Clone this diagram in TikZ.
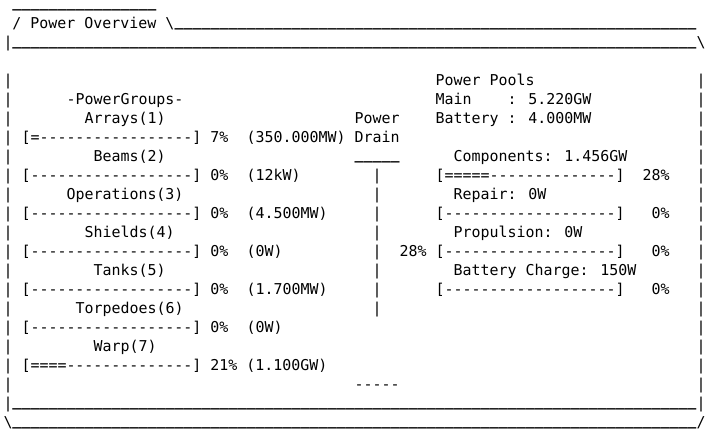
\documentclass[tikz,border=0pt]{standalone}
\usepackage{fontspec}
\newfontfamily\monof{DejaVu Sans Mono}
\newfontfamily\monobf{DejaVu Sans Mono Bold}
\ExplSyntaxOn
\cs_new:Npn \Urep #1 {\raisebox{1.8pt}[0pt][0pt]{\monobf\prg_replicate:nn {#1} {\_}}}
\ExplSyntaxOff
\tikzset{
  txt/.style={anchor=base west, inner sep=0pt, outer sep=0pt,
    font=\monof\fontsize{14.95}{19}\selectfont, text=black}
}
\newcommand\Tx[4]{\node[txt] (#1) at ({3.5+9*#2},{-9.3-19*#3}) {#4};}
\begin{document}
\begin{tikzpicture}[x=1pt,y=1pt]
\useasboundingbox[fill=white] (0,0) rectangle (719,-443);
% frame top
\Tx{topline}{1}{0}{\Urep{16}}
\Tx{title}{1}{1}{/ Power Overview \textbackslash}
\Tx{titlerule}{19}{1}{\Urep{58}}
\Tx{hdrL}{0}{2}{|}
\Tx{hdrrule}{1}{2}{\Urep{76}}
\Tx{hdrR}{77}{2}{\textbackslash}
% side borders
\foreach \r in {4,...,21} {
  \Tx{L\r}{0}{\r}{|}
  \Tx{R\r}{77}{\r}{|}
}
% bottom
\Tx{botrule}{1}{21}{\Urep{76}}
\Tx{endL}{0}{22}{\textbackslash}
\Tx{endrule}{1}{22}{\Urep{76}}
\Tx{endR}{77}{22}{/}
% left panel
\Tx{pg}{7}{5}{-PowerGroups-}
\Tx{g1}{9}{6}{Arrays(1)}
\Tx{b1}{2}{7}{[=-----------------] 7\%}
\Tx{v1}{27}{7}{(350.000MW)}
\Tx{g2}{10}{8}{Beams(2)}
\Tx{b2}{2}{9}{[------------------] 0\%}
\Tx{v2}{27}{9}{(12kW)}
\Tx{g3}{7}{10}{Operations(3)}
\Tx{b3}{2}{11}{[------------------] 0\%}
\Tx{v3}{27}{11}{(4.500MW)}
\Tx{g4}{9}{12}{Shields(4)}
\Tx{b4}{2}{13}{[------------------] 0\%}
\Tx{v4}{27}{13}{(0W)}
\Tx{g5}{10}{14}{Tanks(5)}
\Tx{b5}{2}{15}{[------------------] 0\%}
\Tx{v5}{27}{15}{(1.700MW)}
\Tx{g6}{8}{16}{Torpedoes(6)}
\Tx{b6}{2}{17}{[------------------] 0\%}
\Tx{v6}{27}{17}{(0W)}
\Tx{g7}{10}{18}{Warp(7)}
\Tx{b7}{2}{19}{[====--------------] 21\% (1.100GW)}
% center
\Tx{pw}{39}{6}{Power}
\Tx{dr}{39}{7}{Drain}
\Tx{drtop}{39}{8}{\Urep{5}}
\foreach \r in {9,...,16} {
  \Tx{C\r}{41}{\r}{|}
}
\Tx{drpct}{44}{13}{28\%}
\Tx{drbot}{39}{20}{-----}
% right panel
\Tx{pp}{48}{4}{Power Pools}
\Tx{mainl}{48}{5}{Main}
\Tx{mainv}{56}{5}{: 5.220GW}
\Tx{batt}{48}{6}{Battery : 4.000MW}
\Tx{c1}{50}{8}{Components: 1.456GW}
\Tx{cb1}{48}{9}{[=====--------------]}
\Tx{cp1}{71}{9}{28\%}
\Tx{c2}{50}{10}{Repair: 0W}
\Tx{cb2}{48}{11}{[-------------------]}
\Tx{cp2}{72}{11}{0\%}
\Tx{c3}{50}{12}{Propulsion: 0W}
\Tx{cb3}{48}{13}{[-------------------]}
\Tx{cp3}{72}{13}{0\%}
\Tx{c4}{50}{14}{Battery Charge: 150W}
\Tx{cb4}{48}{15}{[-------------------]}
\Tx{cp4}{72}{15}{0\%}
\end{tikzpicture}
\end{document}
